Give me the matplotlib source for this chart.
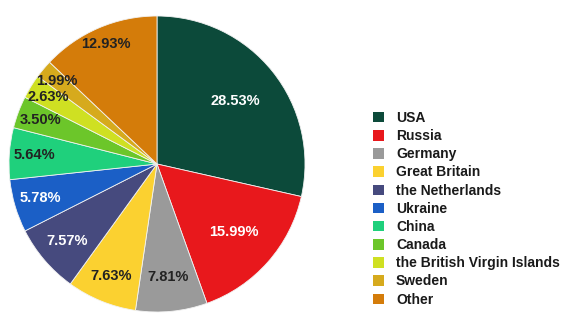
import numpy as np
import matplotlib
matplotlib.use("Agg")
import matplotlib.pyplot as plt
from matplotlib.patches import Patch

# ===== DATA =====
countries = ["USA", "Russia", "Germany", "Great Britain", "the Netherlands",
             "Ukraine", "China", "Canada", "the British Virgin Islands",
             "Sweden", "Other"]
shares = [28.53, 15.99, 7.81, 7.63, 7.57, 5.78, 5.64, 3.50, 2.63, 1.99, 12.93]

colors = ["#0c4a3a", "#e8181c", "#9a9a9a", "#fbd130", "#464a7e", "#1b5fc6",
          "#1fd07c", "#6cc62a", "#cfe022", "#d6aa1d", "#d47c0a"]
text_colors = ["white", "white", "#222222", "#222222", "white", "white",
               "#222222", "#222222", "#222222", "#222222", "#222222"]
# label distance from centre (fraction of radius) per wedge
label_r = [0.68, 0.69, 0.77, 0.82, 0.80, 0.82, 0.83, 0.84, 0.86, 0.88, 0.88]

plt.rcParams['font.family'] = ['Liberation Sans', 'DejaVu Sans']

fig = plt.figure(figsize=(5.76, 3.24), dpi=100)
fig.patch.set_facecolor("white")

# pie axes: centre ~ (157,164) px, radius ~148 px
W, H = 576, 324
cx, cy, R = 157, 164, 148
ax = fig.add_axes([(cx - R) / W, (H - cy - R) / H, 2 * R / W, 2 * R / H])

wedges, _ = ax.pie(shares, colors=colors, startangle=90, counterclock=False,
                   radius=1.0,
                   wedgeprops=dict(edgecolor="#f2f2f2", linewidth=0.6))

for w, val, tc, r in zip(wedges, shares, text_colors, label_r):
    ang = np.deg2rad((w.theta1 + w.theta2) / 2)
    ax.text(r * np.cos(ang), r * np.sin(ang), f"{val:.2f}%",
            ha="center", va="center", fontsize=10.5, fontweight="bold",
            color=tc)

ax.set_xlim(-1, 1)
ax.set_ylim(-1, 1)
ax.set_aspect("equal")
ax.axis("off")

handles = [Patch(facecolor=c, edgecolor="none") for c in colors]
leg = fig.legend(handles, countries, loc="upper left",
                 bbox_to_anchor=(373 / W, 1 - 111 / H),
                 frameon=False, prop=dict(weight="bold", size=10),
                 handlelength=0.8, handleheight=0.8, handletextpad=0.85,
                 labelspacing=0.3, borderaxespad=0, borderpad=0)
for t in leg.get_texts():
    t.set_color("#1a1a1a")

plt.savefig("out.png", dpi=100, facecolor="white")
